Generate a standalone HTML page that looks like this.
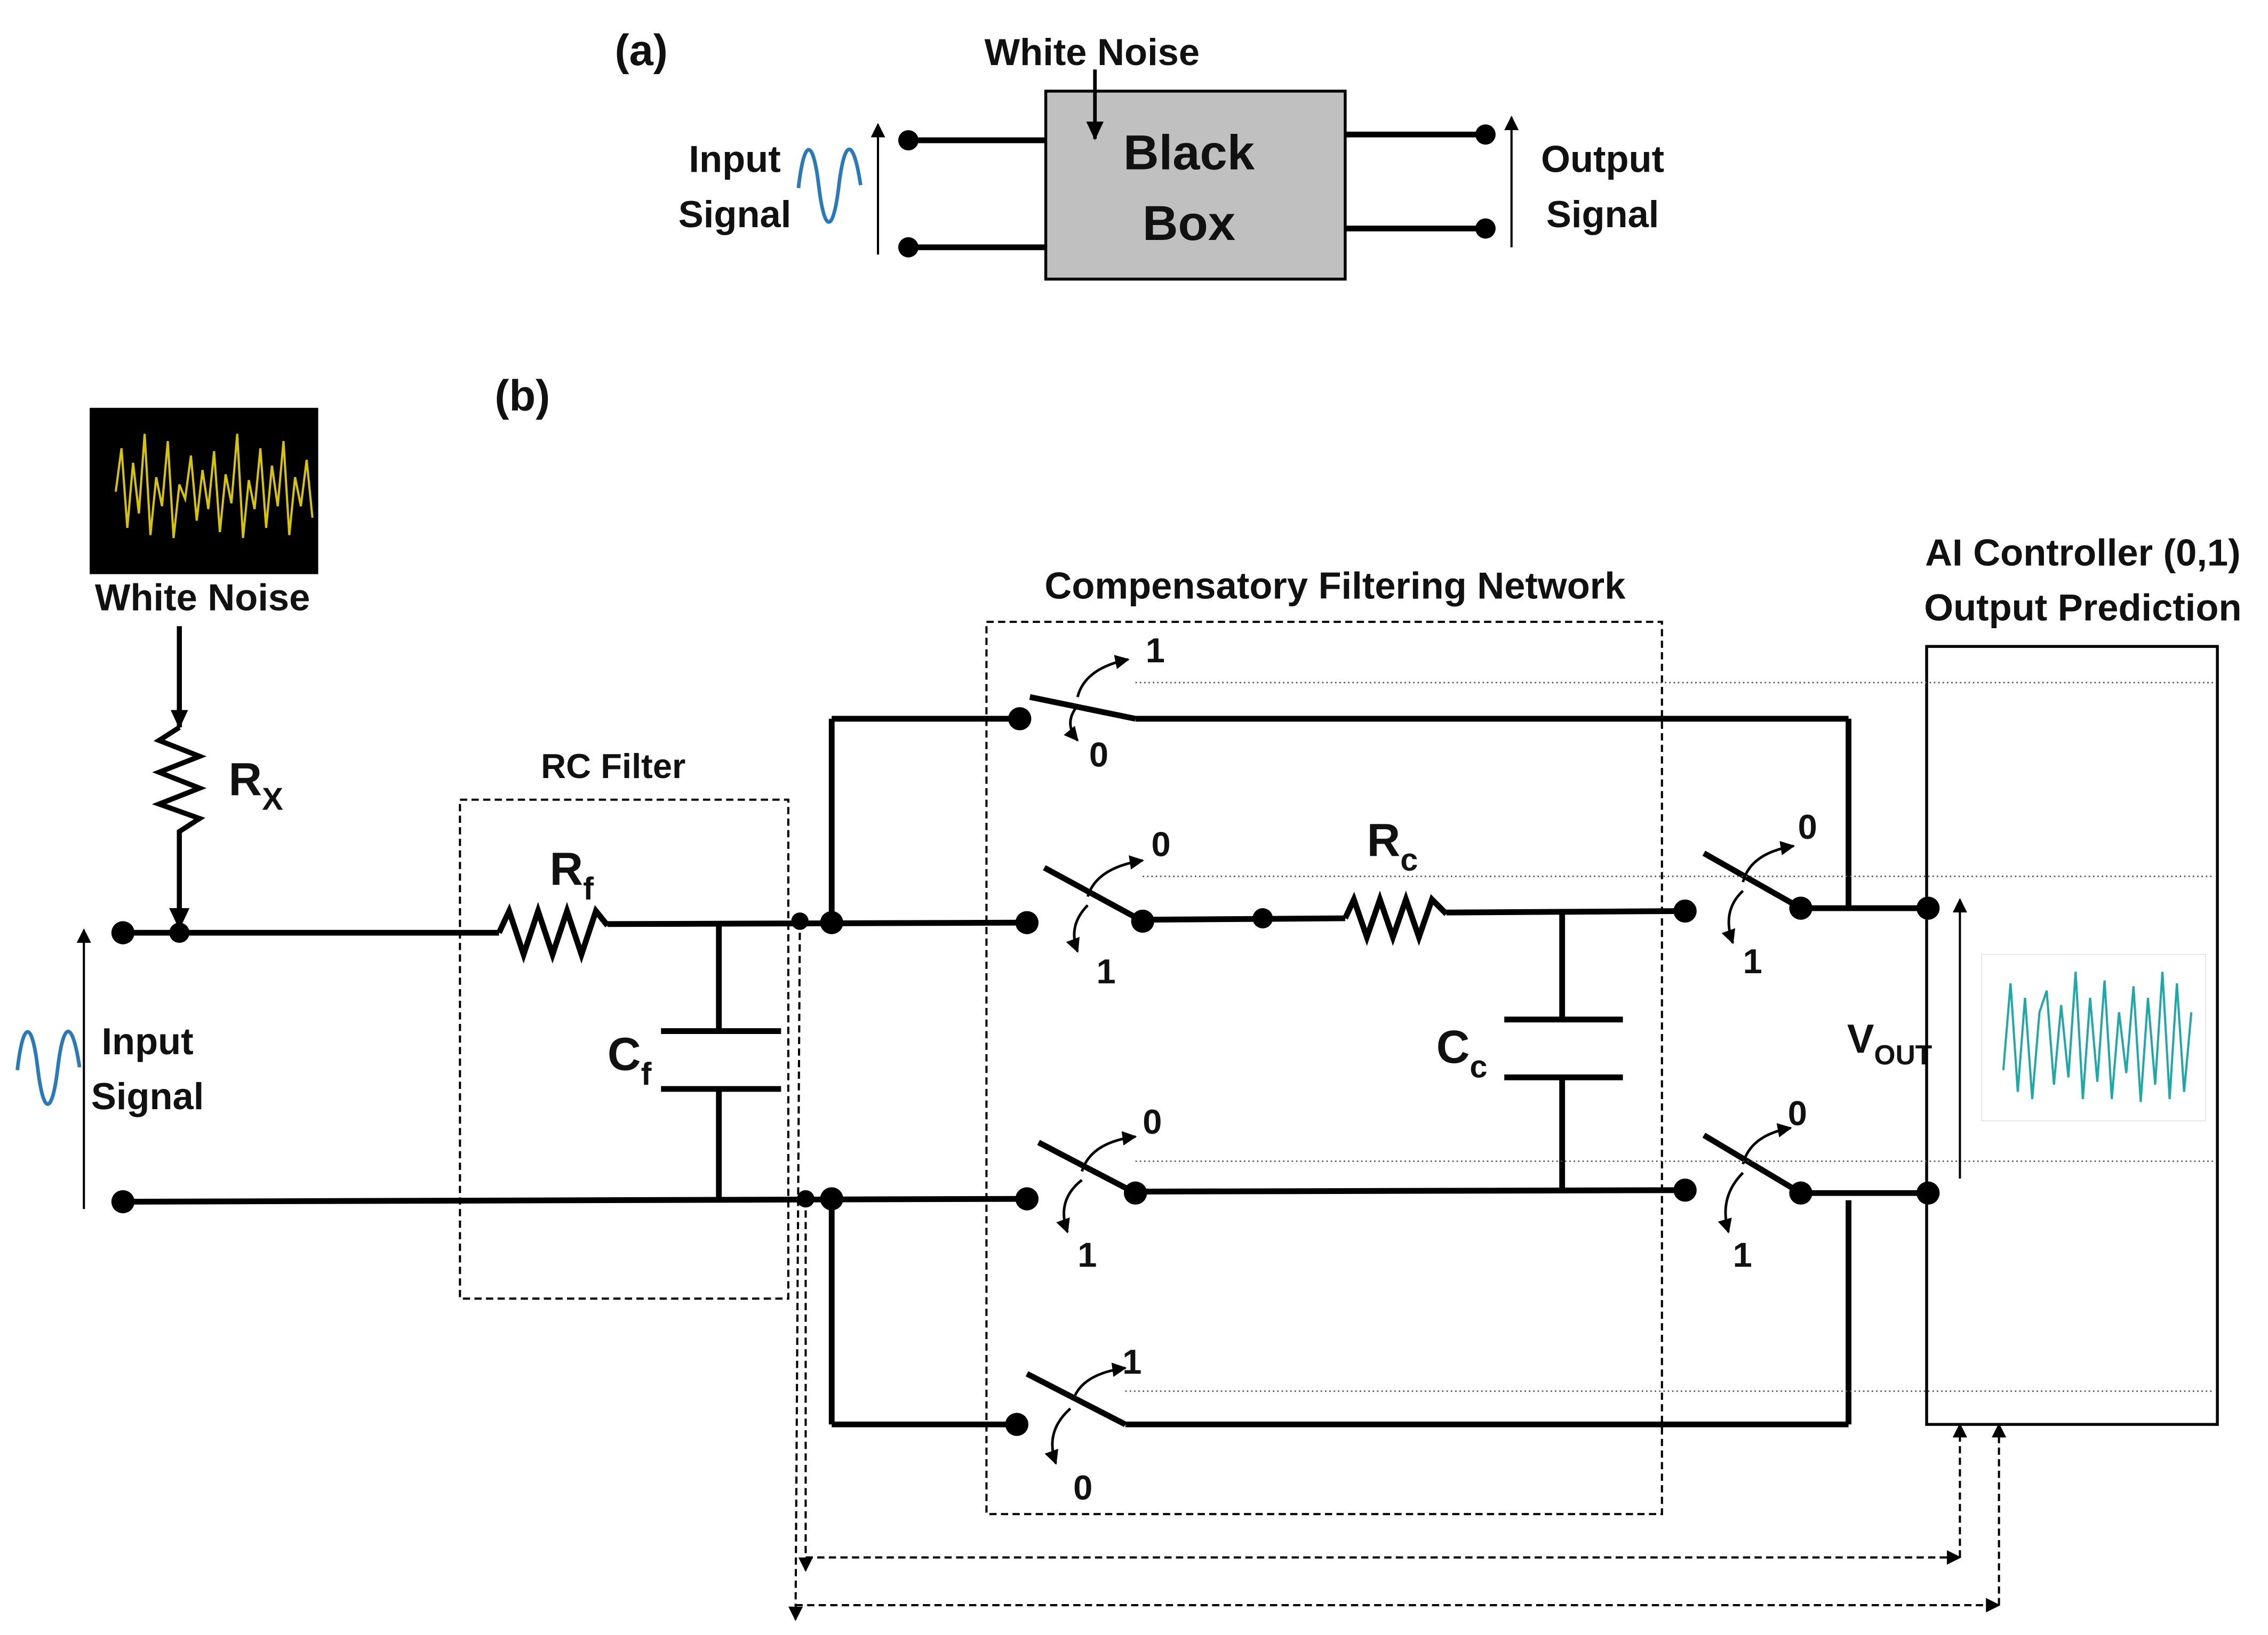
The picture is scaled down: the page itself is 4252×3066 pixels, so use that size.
<!DOCTYPE html>
<html><head><meta charset="utf-8"><style>html,body{margin:0;padding:0;background:#fff}svg{display:block}text{font-family:"Liberation Sans",sans-serif;font-weight:bold;fill:#111}</style></head><body>
<svg width="4252" height="3066" viewBox="0 0 1568 1130.6" xmlns="http://www.w3.org/2000/svg">
<defs>
<marker id="ah" markerWidth="10" markerHeight="10" refX="9" refY="5" orient="auto" markerUnits="userSpaceOnUse"><path d="M0,0 L10,5 L0,10 z" fill="#000"/></marker>
<marker id="ahs" markerWidth="14" markerHeight="14" refX="12" refY="7" orient="auto" markerUnits="userSpaceOnUse"><path d="M0,1 L13,7 L0,13 z" fill="#000"/></marker>
</defs>
<!-- (a) -->
<text x="425" y="45" font-size="30">(a)</text>
<text x="755" y="45" font-size="26" text-anchor="middle">White Noise</text>
<rect x="723" y="63" width="207" height="130" fill="#c0c0c0" stroke="#000" stroke-width="2"/>
<line x1="757" y1="48" x2="757" y2="96" stroke="#000" stroke-width="2.5" marker-end="url(#ahs)"/>
<text x="822" y="117" font-size="34" text-anchor="middle">Black</text>
<text x="822" y="166" font-size="34" text-anchor="middle">Box</text>
<g stroke="#000" stroke-width="4" fill="none">
<line x1="628" y1="97" x2="723" y2="97"/><line x1="628" y1="171" x2="723" y2="171"/>
<line x1="930" y1="93" x2="1027" y2="93"/><line x1="930" y1="158" x2="1027" y2="158"/>
</g>
<g fill="#000"><circle cx="628" cy="97" r="7"/><circle cx="628" cy="171" r="7"/><circle cx="1027" cy="93" r="7"/><circle cx="1027" cy="158" r="7"/></g>
<line x1="607" y1="176" x2="607" y2="86" stroke="#000" stroke-width="1.5" marker-end="url(#ah)"/>
<line x1="1045" y1="171" x2="1045" y2="81" stroke="#000" stroke-width="1.5" marker-end="url(#ah)"/>
<text x="508" y="119" font-size="26" text-anchor="middle">Input</text>
<text x="508" y="157" font-size="26" text-anchor="middle">Signal</text>
<text x="1108" y="119" font-size="26" text-anchor="middle">Output</text>
<text x="1108" y="157" font-size="26" text-anchor="middle">Signal</text>
<path d="M552,130 C556,95 562,95 566,128 C570,162 576,162 580,128 C584,95 590,95 595,128" stroke="#2a7ab8" stroke-width="2.5" fill="none"/>
<!-- (b) -->
<text x="342" y="284" font-size="30">(b)</text>
<rect x="62" y="282" width="158" height="115" fill="#000"/>
<path d="M80,340 L84,310 L88,365 L92,320 L96,355 L100,300 L104,370 L108,330 L112,350 L116,305 L120,372 L124,335 L128,345 L132,315 L136,360 L140,325 L144,352 L148,312 L152,368 L156,328 L160,348 L164,300 L168,372 L172,332 L176,352 L180,310 L184,365 L188,322 L192,350 L196,305 L200,370 L204,330 L208,350 L212,318 L216,358" stroke="#d8c400" stroke-width="1.5" fill="none"/>
<text x="140" y="422" font-size="26" text-anchor="middle">White Noise</text>
<g stroke="#000" stroke-width="3.5" fill="none">
<line x1="124" y1="433" x2="124" y2="503" marker-end="url(#ahs)"/>
<path d="M124,503 L110,512 L138,523 L110,534 L138,545 L110,556 L138,566 L124,575 L124,643"/>
</g>
<path d="M117,628 L124,643 L131,628 z" fill="#000"/>
<text x="158" y="550" font-size="32">R<tspan font-size="22" dy="10">X</tspan></text>
<g stroke="#000" stroke-width="4" fill="none">
<line x1="85" y1="645" x2="345" y2="645"/>
<path d="M345,645 L352,630 L362,660 L372,630 L382,660 L392,630 L402,660 L412,630 L420,640"/>
<line x1="420" y1="639" x2="710" y2="638"/>
<line x1="85" y1="831" x2="710" y2="829"/>
<line x1="497" y1="638" x2="497" y2="713"/><line x1="457" y1="713" x2="540" y2="713"/>
<line x1="457" y1="753" x2="540" y2="753"/><line x1="497" y1="753" x2="497" y2="831"/>
<line x1="575" y1="497" x2="575" y2="638"/><line x1="575" y1="497" x2="705" y2="497"/>
<line x1="575" y1="829" x2="575" y2="985"/><line x1="575" y1="985" x2="703" y2="985"/>
<line x1="712" y1="482" x2="785" y2="497"/><line x1="785" y1="497" x2="1278" y2="497"/>
<line x1="1278" y1="497" x2="1278" y2="630"/>
<line x1="722" y1="600" x2="790" y2="637"/><line x1="790" y1="636" x2="930" y2="635"/>
<path d="M930,635 L936,622 L945,648 L954,622 L963,648 L972,622 L981,648 L990,622 L1000,632"/>
<line x1="1000" y1="631" x2="1165" y2="630"/>
<line x1="1080" y1="630" x2="1080" y2="705"/><line x1="1040" y1="705" x2="1122" y2="705"/>
<line x1="1040" y1="745" x2="1122" y2="745"/><line x1="1080" y1="745" x2="1080" y2="823"/>
<line x1="718" y1="790" x2="785" y2="825"/><line x1="785" y1="824" x2="1165" y2="823"/>
<line x1="710" y1="950" x2="778" y2="985"/><line x1="778" y1="985" x2="1278" y2="985"/>
<line x1="1278" y1="830" x2="1278" y2="985"/>
<line x1="1178" y1="590" x2="1245" y2="628"/><line x1="1245" y1="628" x2="1333" y2="628"/>
<line x1="1178" y1="785" x2="1245" y2="825"/><line x1="1245" y1="825" x2="1333" y2="825"/>
</g>
<g fill="#000">
<circle cx="85" cy="645" r="8"/><circle cx="124" cy="645" r="7"/><circle cx="85" cy="831" r="8"/>
<circle cx="553" cy="637" r="6"/><circle cx="575" cy="638" r="8"/><circle cx="557" cy="829" r="6"/><circle cx="575" cy="829" r="8"/>
<circle cx="705" cy="497" r="8"/><circle cx="710" cy="638" r="8"/><circle cx="710" cy="829" r="8"/><circle cx="703" cy="985" r="8"/>
<circle cx="790" cy="637" r="8"/><circle cx="873" cy="635" r="7"/><circle cx="1165" cy="630" r="8"/>
<circle cx="785" cy="825" r="8"/><circle cx="1165" cy="823" r="8"/>
<circle cx="1245" cy="628" r="8"/><circle cx="1333" cy="628" r="8"/><circle cx="1245" cy="825" r="8"/><circle cx="1333" cy="825" r="8"/>
</g>
<g stroke="#000" stroke-width="1.8" fill="none">
<path d="M745,482 Q750,462 780,456" marker-end="url(#ah)"/><path d="M745,488 Q735,500 745,512" marker-end="url(#ah)"/>
<path d="M752,620 Q758,600 790,595" marker-end="url(#ah)"/><path d="M752,626 Q738,640 745,658" marker-end="url(#ah)"/>
<path d="M748,810 Q754,790 785,786" marker-end="url(#ah)"/><path d="M748,816 Q730,830 738,852" marker-end="url(#ah)"/>
<path d="M742,968 Q748,950 778,946" marker-end="url(#ah)"/><path d="M740,974 Q722,990 730,1012" marker-end="url(#ah)"/>
<path d="M1205,610 Q1210,590 1240,585" marker-end="url(#ah)"/><path d="M1205,616 Q1190,630 1198,652" marker-end="url(#ah)"/>
<path d="M1205,805 Q1210,785 1238,780" marker-end="url(#ah)"/><path d="M1205,811 Q1188,828 1195,852" marker-end="url(#ah)"/>
</g>
<g font-size="24">
<text x="792" y="458">1</text><text x="753" y="530">0</text>
<text x="796" y="592">0</text><text x="758" y="680">1</text>
<text x="790" y="784">0</text><text x="745" y="876">1</text>
<text x="776" y="950">1</text><text x="742" y="1037">0</text>
<text x="1243" y="580">0</text><text x="1205" y="673">1</text>
<text x="1236" y="778">0</text><text x="1198" y="876">1</text>
</g>
<text x="380" y="612" font-size="32">R<tspan font-size="22" dy="10">f</tspan></text>
<text x="420" y="740" font-size="32">C<tspan font-size="22" dy="10">f</tspan></text>
<text x="945" y="592" font-size="32">R<tspan font-size="22" dy="10">c</tspan></text>
<text x="993" y="735" font-size="32">C<tspan font-size="22" dy="10">c</tspan></text>
<text x="1277" y="728" font-size="28">V<tspan font-size="19" dy="8">OUT</tspan></text>
<rect x="318" y="553" width="227" height="345" fill="none" stroke="#000" stroke-width="1.5" stroke-dasharray="5,3"/>
<text x="424" y="538" font-size="24" text-anchor="middle">RC Filter</text>
<rect x="682" y="430" width="467" height="617" fill="none" stroke="#000" stroke-width="1.5" stroke-dasharray="5,3"/>
<text x="923" y="414" font-size="26" text-anchor="middle">Compensatory Filtering Network</text>
<rect x="1332" y="447" width="201" height="538" fill="none" stroke="#000" stroke-width="2"/>
<text x="1440" y="391" font-size="26" text-anchor="middle">AI Controller (0,1)</text>
<text x="1440" y="429" font-size="26" text-anchor="middle">Output Prediction</text>
<g stroke="#555" stroke-width="1" stroke-dasharray="1,2">
<line x1="785" y1="472" x2="1530" y2="472"/><line x1="790" y1="606" x2="1530" y2="606"/>
<line x1="785" y1="803" x2="1530" y2="803"/><line x1="778" y1="962" x2="1530" y2="962"/>
</g>
<line x1="1355" y1="815" x2="1355" y2="622" stroke="#000" stroke-width="1.5" marker-end="url(#ah)"/>
<rect x="1370" y="660" width="155" height="115" fill="#fff" stroke="#ddd" stroke-width="0.5"/>
<path d="M1385,740 L1390,680 L1395,755 L1400,690 L1405,760 L1410,700 L1415,685 L1420,750 L1425,695 L1430,745 L1435,672 L1440,760 L1445,690 L1450,748 L1455,678 L1460,760 L1465,700 L1470,742 L1475,682 L1480,762 L1485,690 L1490,750 L1495,672 L1500,760 L1505,680 L1510,755 L1515,700" stroke="#20a8a8" stroke-width="1.5" fill="none"/>
<line x1="58" y1="836" x2="58" y2="643" stroke="#000" stroke-width="1.5" marker-end="url(#ah)"/>
<text x="102" y="729" font-size="26" text-anchor="middle">Input</text>
<text x="102" y="767" font-size="26" text-anchor="middle">Signal</text>
<path d="M12,740 C16,705 22,705 26,738 C30,772 36,772 40,738 C44,705 50,705 55,738" stroke="#2a7ab8" stroke-width="2.5" fill="none"/>
<g stroke="#000" stroke-width="1.5" stroke-dasharray="5,3" fill="none">
<line x1="553" y1="637" x2="550" y2="1120" marker-end="url(#ah)"/>
<line x1="557" y1="829" x2="557" y2="1086" marker-end="url(#ah)"/>
<line x1="557" y1="1077" x2="1355" y2="1077" marker-end="url(#ah)"/>
<line x1="550" y1="1110" x2="1382" y2="1110" marker-end="url(#ah)"/>
<line x1="1355" y1="1077" x2="1355" y2="985" marker-end="url(#ah)"/>
<line x1="1382" y1="1110" x2="1382" y2="985" marker-end="url(#ah)"/>
</g>
</svg>
</body></html>
